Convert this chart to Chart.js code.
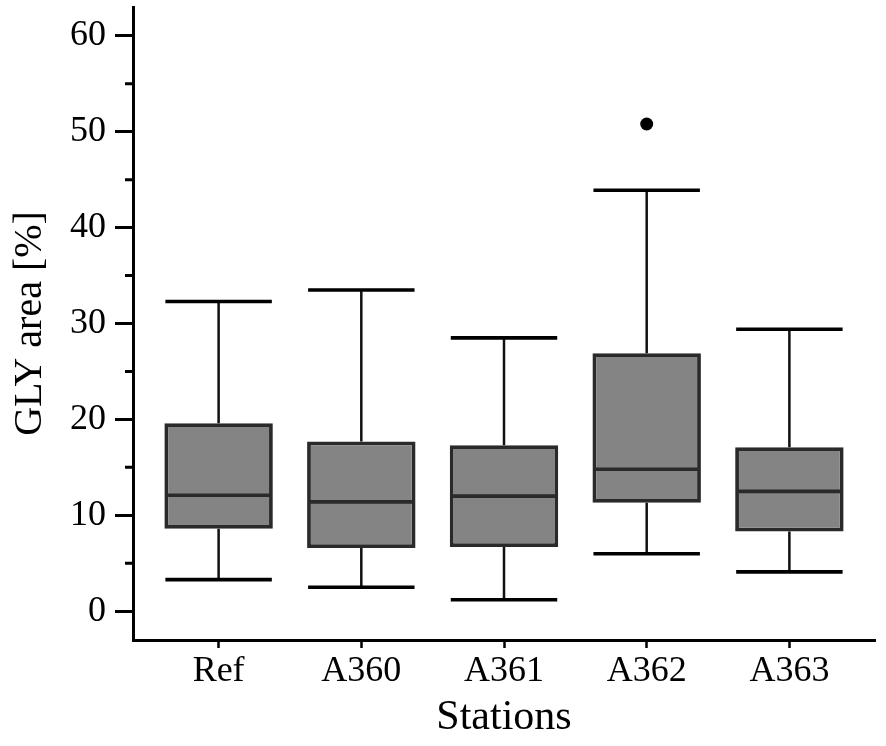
<!DOCTYPE html>
<html>
<head>
<meta charset="utf-8">
<script src="https://cdn.jsdelivr.net/npm/chart.js@4/dist/chart.umd.min.js"></script>
<style>
html,body{margin:0;padding:0;background:#fff;}
#wrap{width:886px;height:746px;}
</style>
</head>
<body>
<div id="wrap"><canvas id="c"></canvas></div>
<script>
// ---- data ----
const categories   = ['Ref', 'A360', 'A361', 'A362', 'A363'];
const whiskerLow   = [3.3, 2.5, 1.2, 6.0, 4.1];
const q1           = [8.6, 6.6, 6.7, 11.3, 8.3];
const median       = [12.1, 11.4, 12.0, 14.8, 12.5];
const q3           = [19.6, 17.7, 17.3, 26.9, 17.1];
const whiskerHigh  = [32.3, 33.5, 28.5, 43.9, 29.4];
const outlierCats  = ['A362'];
const outlierVals  = [50.8];
const yTicks       = [0, 10, 20, 30, 40, 50, 60];
const yMinorTicks  = [5, 15, 25, 35, 45, 55];

const FONT = 'Liberation Serif';

const boxPlugin = {
  id: 'boxWhiskers',
  afterDatasetsDraw(chart) {
    const ctx = chart.ctx, xs = chart.scales.x, ys = chart.scales.y;
    const meta = chart.getDatasetMeta(0);
    ctx.save();
    categories.forEach((c, i) => {
      const bar = meta.data[i];
      const cx = xs.getPixelForValue(i + 1);
      const half = bar.width / 2 - 1;
      // stems
      ctx.strokeStyle = '#111';
      ctx.lineWidth = 2.5;
      ctx.beginPath();
      ctx.moveTo(cx, ys.getPixelForValue(q3[i]));
      ctx.lineTo(cx, ys.getPixelForValue(whiskerHigh[i]));
      ctx.moveTo(cx, ys.getPixelForValue(q1[i]));
      ctx.lineTo(cx, ys.getPixelForValue(whiskerLow[i]));
      ctx.stroke();
      // caps
      ctx.strokeStyle = '#000';
      ctx.lineWidth = 3.6;
      ctx.beginPath();
      [whiskerHigh[i], whiskerLow[i]].forEach(v => {
        const py = ys.getPixelForValue(v);
        ctx.moveTo(cx - half, py);
        ctx.lineTo(cx + half, py);
      });
      ctx.stroke();
      // median
      ctx.strokeStyle = '#2a2a2a';
      ctx.lineWidth = 3.6;
      const pm = ys.getPixelForValue(median[i]);
      ctx.beginPath();
      ctx.moveTo(bar.x - bar.width / 2 + 1, pm);
      ctx.lineTo(bar.x + bar.width / 2 - 1, pm);
      ctx.stroke();
    });
    // minor ticks on y axis
    ctx.strokeStyle = '#000';
    ctx.lineWidth = 3;
    ctx.beginPath();
    yMinorTicks.forEach(v => {
      const py = ys.getPixelForValue(v);
      ctx.moveTo(ys.right - 8, py);
      ctx.lineTo(ys.right, py);
    });
    ctx.stroke();
    ctx.restore();
  }
};

new Chart(document.getElementById('c'), {
  type: 'bar',
  data: {
    datasets: [
      {
        type: 'bar',
        data: categories.map((c, i) => ({ x: i + 1, y: [q1[i], q3[i]] })),
        backgroundColor: '#848484',
        borderColor: '#2a2a2a',
        borderWidth: 3.8,
        borderSkipped: false,
        categoryPercentage: 1,
        barPercentage: 0.76
      },
      {
        type: 'scatter',
        data: outlierCats.map((c, i) => ({ x: categories.indexOf(c) + 1, y: outlierVals[i] })),
        backgroundColor: '#000',
        borderColor: '#000',
        pointRadius: 6.5,
        borderWidth: 0
      }
    ]
  },
  options: {
    responsive: true,
    maintainAspectRatio: false,
    animation: false,
    events: [],
    layout: { padding: { top: 7, right: 11, left: 0, bottom: 0 } },
    plugins: { legend: { display: false }, tooltip: { enabled: false } },
    scales: {
      x: {
        type: 'linear',
        min: 0.4,
        max: 5.6,
        offset: false,
        afterBuildTicks: s => { s.ticks = categories.map((c, i) => ({ value: i + 1 })); },
        ticks: {
          callback: (v, i) => categories[i],
          font: { family: FONT, size: 36 },
          color: '#000',
          padding: 2,
          maxRotation: 0,
          autoSkip: false
        },
        grid: { display: true, offset: false, drawOnChartArea: false, tickLength: 8, tickWidth: 2.5, tickColor: '#000' },
        border: { display: true, color: '#000', width: 3 },
        title: { display: true, text: 'Stations', color: '#000', font: { family: FONT, size: 42 }, padding: { top: 0, bottom: 3 } },
        afterFit: s => { s.height = 106; s.paddingLeft = 0; s.paddingRight = 0; }
      },
      y: {
        type: 'linear',
        min: -3,
        max: 63,
        afterBuildTicks: s => { s.ticks = yTicks.map(v => ({ value: v })); },
        ticks: {
          callback: v => String(v),
          font: { family: FONT, size: 36 },
          color: '#000',
          padding: 9
        },
        grid: { display: true, drawOnChartArea: false, tickLength: 18, tickWidth: 3, tickColor: '#000' },
        border: { display: true, color: '#000', width: 3 },
        title: { display: true, text: 'GLY area [%]', color: '#000', font: { family: FONT, size: 40 }, padding: { top: 6, bottom: 0 } },
        afterFit: s => { s.width = 133; s.paddingTop = 0; s.paddingBottom = 0; }
      }
    }
  },
  plugins: [boxPlugin]
});
</script>
</body>
</html>
